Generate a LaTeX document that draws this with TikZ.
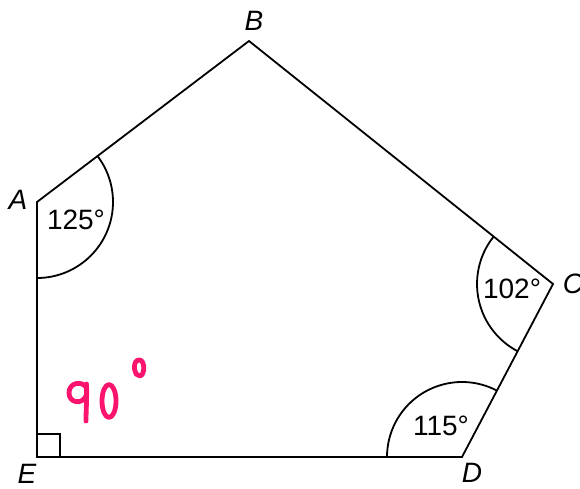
\documentclass[tikz,border=0pt]{standalone}
\usepackage{fontspec}
\setmainfont{Liberation Sans}
\usetikzlibrary{angles}
\definecolor{handpink}{RGB}{250,20,110}
\begin{document}
\begin{tikzpicture}[x=1pt,y=1pt,
  edge/.style={line width=1.8pt,line join=miter},
  arcstyle/.style={draw,line width=1.8pt,angle radius=76pt},
  vlabel/.style={font=\fontsize{28}{28}\selectfont\itshape,inner sep=0pt},
  alabel/.style={font=\fontsize{28}{28}\selectfont,inner sep=0pt},
  hand/.style={draw=handpink,line width=4.8pt,line cap=round,line join=round}]
\useasboundingbox (0,0) rectangle (580,488);
\coordinate (A) at (37,286);
\coordinate (B) at (249,447);
\coordinate (C) at (553,204);
\coordinate (D) at (462,31);
\coordinate (E) at (37,31);
\draw[edge] (A) -- (B) -- (C) -- (D) -- (E) -- cycle;
\pic[arcstyle] {angle=E--A--B};
\pic[arcstyle] {angle=B--C--D};
\pic[arcstyle,angle radius=75pt] {angle=C--D--E};
\draw[edge] ([xshift=23pt]E) |- ([yshift=23pt]E);
\node[vlabel] (lA) at (18,288) {A};
\node[vlabel] (lB) at (254,467) {B};
\node[vlabel] (lC) at (573,204) {C};
\node[vlabel] (lD) at (472,15) {D};
\node[vlabel] (lE) at (27,14) {E};
\node[alabel] (a1) at (76,268) {125°};
\node[alabel] (a2) at (512,199) {102°};
\node[alabel] (a3) at (441,62) {115°};
% handwritten 90°
\draw[hand] (86,101) .. controls (82,107) and (69,106) .. (69,95) .. controls (69,85) and (82,83) .. (86,92);
\draw[hand] (86.5,104) .. controls (87,90) and (86,78) .. (86,67);
\draw[hand] (109,87) ellipse [x radius=7, y radius=16.5];
\draw[hand] (135,117) .. controls (133,124) and (136,129) .. (140,128) .. controls (145,127) and (145,113) .. (140,112) .. controls (137,112) and (135,115) .. (135,117);
\end{tikzpicture}
\end{document}
